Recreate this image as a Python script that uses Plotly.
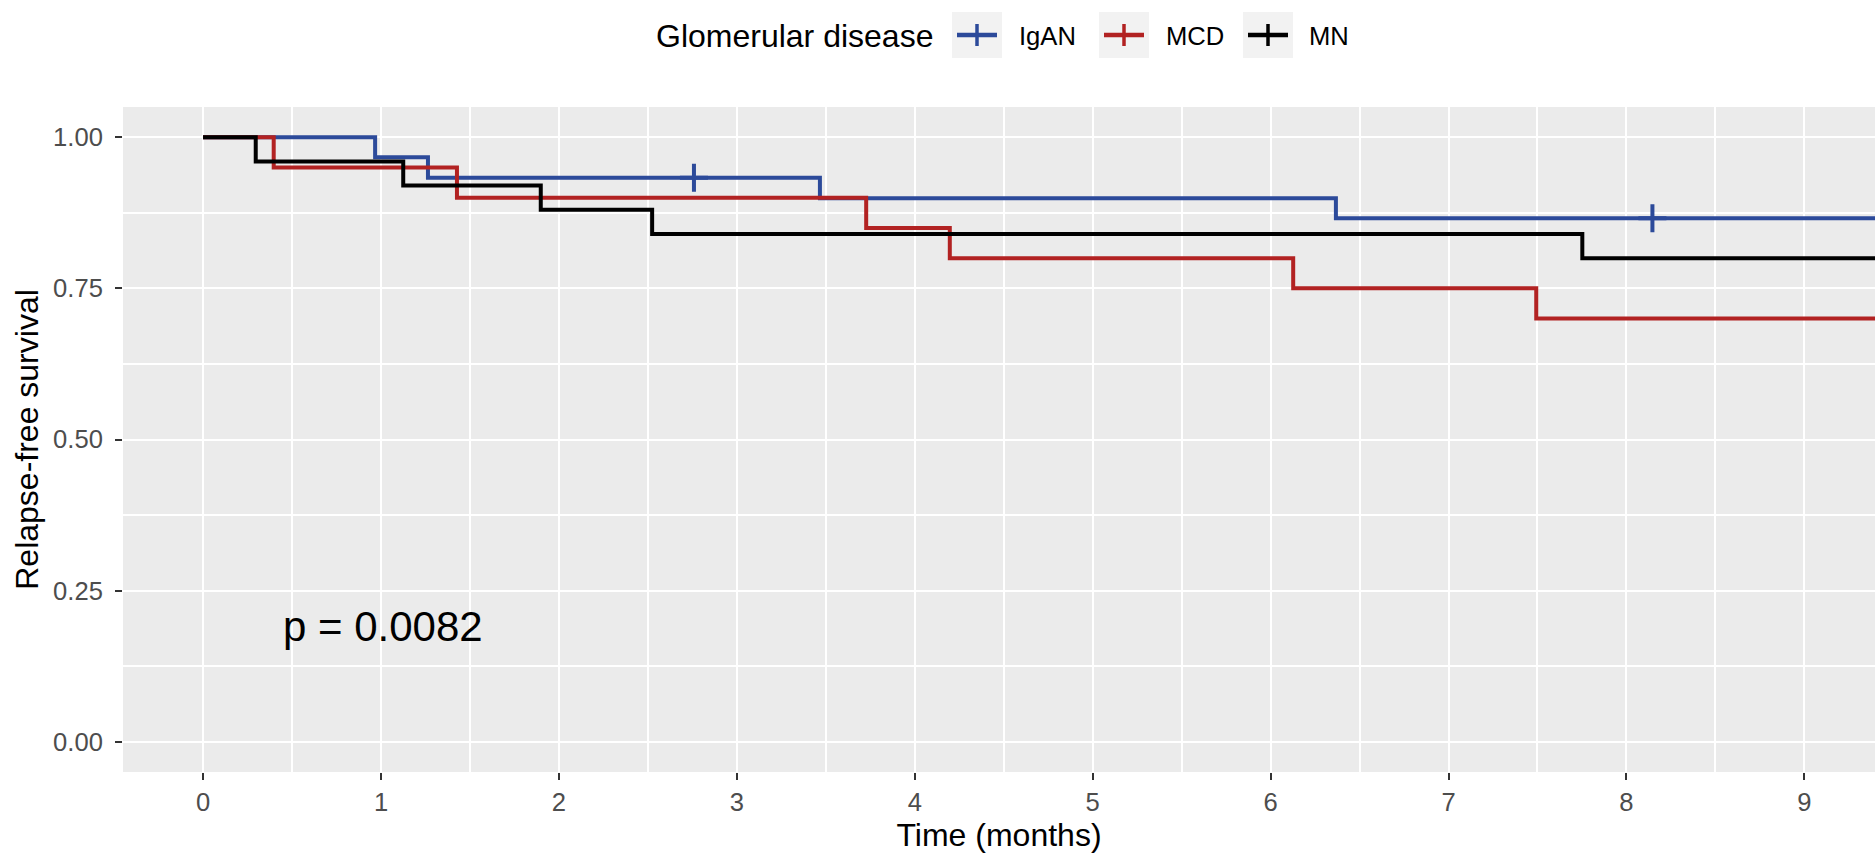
import plotly.graph_objects as go

# ---- data (Kaplan-Meier step curves) ----
groups = ["IgAN", "MCD", "MN"]
colors = ["#2C4A9A", "#B22222", "#000000"]

igan_time = [0.0, 0.967, 1.264, 3.467, 6.367]
igan_surv = [1.0, 0.967, 0.933, 0.899, 0.866]
igan_censor = [2.759, 8.146]

mcd_time = [0.0, 0.397, 1.427, 3.727, 4.197, 6.127, 7.493]
mcd_surv = [1.0, 0.95, 0.90, 0.85, 0.80, 0.75, 0.70]
mcd_censor = []

mn_time = [0.0, 0.296, 1.125, 1.898, 2.524, 7.752]
mn_surv = [1.0, 0.96, 0.92, 0.88, 0.84, 0.80]
mn_censor = []

last_followup = [9.6, 9.6, 9.6]

x_ticks = [0, 1, 2, 3, 4, 5, 6, 7, 8, 9]
y_ticks = [0.0, 0.25, 0.5, 0.75, 1.0]
y_ticktext = ["0.00", "0.25", "0.50", "0.75", "1.00"]
p_text = "p = 0.0082"
legend_title = "Glomerular disease"

series = [
    (igan_time, igan_surv, igan_censor),
    (mcd_time, mcd_surv, mcd_censor),
    (mn_time, mn_surv, mn_censor),
]

FONT = "Liberation Sans, Arial, sans-serif"
W, H = 1875, 857
ML, MR, MT, MB = 123, 0, 107, 85
PW, PH = W - ML - MR, H - MT - MB


def px_x(px):
    return (px - ML) / PW


def px_y(py):
    return (H - MB - py) / PH


def surv_at(times, surv, t):
    s = surv[0]
    for ti, si in zip(times, surv):
        if ti <= t:
            s = si
    return s


fig = go.Figure()
for name, col, (t, s, c), tend in zip(groups, colors, series, last_followup):
    xs = list(t) + [tend]
    ys = list(s) + [s[-1]]
    fig.add_trace(go.Scatter(
        x=xs, y=ys, mode="lines", line=dict(color=col, width=4, shape="hv"),
        name=name, legendgroup=name, showlegend=False, hoverinfo="skip"))
    if c:
        fig.add_trace(go.Scatter(
            x=c, y=[surv_at(t, s, ci) for ci in c], mode="markers",
            marker=dict(symbol="cross-thin", size=20, color=col,
                        line=dict(color=col, width=4)),
            name=name, legendgroup=name, showlegend=False, hoverinfo="skip"))

fig.add_annotation(x=0.44, y=0.191, xref="x", yref="y", text=p_text,
                   showarrow=False, xanchor="left", yanchor="middle",
                   font=dict(family=FONT, size=42, color="#000000"))

# ---- legend (ggplot-style, drawn in the top margin) ----
leg_cy = 35          # key centre (px from top)
box_w, box_h = 50, 46
box_left = [952, 1099, 1243]
text_left = [1019, 1166, 1309]

fig.add_annotation(x=px_x(935), y=px_y(leg_cy + 1), xref="paper", yref="paper",
                   text=legend_title, showarrow=False, xanchor="right", yanchor="middle",
                   font=dict(family=FONT, size=32, color="#000000"))
for name, col, bl, tl in zip(groups, colors, box_left, text_left):
    cx = bl + box_w / 2
    fig.add_shape(type="rect", xref="paper", yref="paper",
                  x0=px_x(bl), x1=px_x(bl + box_w),
                  y0=px_y(leg_cy - box_h / 2), y1=px_y(leg_cy + box_h / 2),
                  fillcolor="#F2F2F2", line=dict(width=0), layer="below")
    fig.add_shape(type="line", xref="paper", yref="paper",
                  x0=px_x(bl + 5), x1=px_x(bl + box_w - 5),
                  y0=px_y(leg_cy), y1=px_y(leg_cy),
                  line=dict(color=col, width=4.5))
    fig.add_shape(type="line", xref="paper", yref="paper",
                  x0=px_x(cx), x1=px_x(cx),
                  y0=px_y(leg_cy - 11), y1=px_y(leg_cy + 11),
                  line=dict(color=col, width=3.5))
    fig.add_annotation(x=px_x(tl - 2), y=px_y(leg_cy + 1), xref="paper", yref="paper",
                       text=name, showarrow=False, xanchor="left", yanchor="middle",
                       font=dict(family=FONT, size=25.6, color="#000000"))

axis_common = dict(
    showgrid=True, gridcolor="#FFFFFF", gridwidth=2.4,
    zeroline=False, showline=False,
    ticks="outside", ticklen=7, tickwidth=2, tickcolor="#333333",
    tickfont=dict(family=FONT, size=25.6, color="#4D4D4D"),
)

fig.update_layout(
    width=W, height=H,
    margin=dict(l=ML, r=MR, t=MT, b=MB, pad=0),
    paper_bgcolor="#FFFFFF", plot_bgcolor="#EBEBEB",
    font=dict(family=FONT, color="#000000"),
    showlegend=False,
    xaxis=dict(range=[-0.45, 9.397], tickvals=x_ticks,
               minor=dict(dtick=0.5, tick0=0, showgrid=True, gridcolor="#FFFFFF", gridwidth=1.6),
               title=dict(text="Time (months)", font=dict(family=FONT, size=32, color="#000000"),
                          standoff=8),
               **axis_common),
    yaxis=dict(range=[-0.05, 1.05], tickvals=y_ticks, ticktext=y_ticktext,
               ticklabelstandoff=7,
               minor=dict(dtick=0.125, tick0=0, showgrid=True, gridcolor="#FFFFFF", gridwidth=1.6),
               title=dict(text="Relapse-free survival", font=dict(family=FONT, size=32, color="#000000"),
                          standoff=4),
               **axis_common),
)

fig.write_html("out.html")
